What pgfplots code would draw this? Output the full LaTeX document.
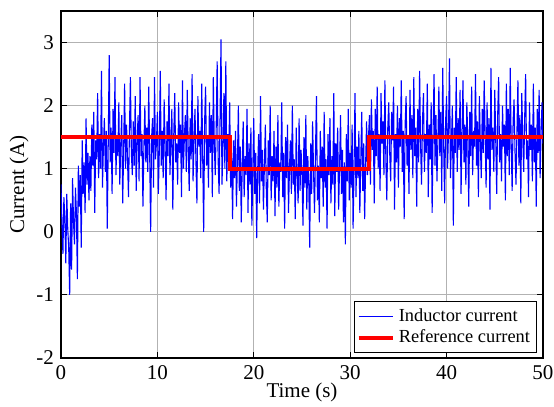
\documentclass[border=0pt]{standalone}
\usepackage{fontspec}
\setmainfont{Liberation Serif}
\usepackage{pgfplots}
\usepackage{pgfplotstable}
\pgfplotsset{compat=1.18}
\pgfplotstableread[row sep=\\,header=false]{
0.75\\ 0.10\\ -0.35\\ 0.55\\ 0.20\\ -0.50\\ 0.60\\ 0.05\\ -0.25\\ -1.00\\
0.45\\ -0.60\\ 0.85\\ 0.15\\ -0.20\\ 0.70\\ 0.30\\ -0.75\\ 1.05\\ 0.40\\
0.90\\ -0.25\\ 1.45\\ 0.60\\ 1.10\\ 0.30\\ 1.80\\ 0.75\\ 1.25\\ 0.50\\
1.20\\ 0.65\\ 1.70\\ 1.05\\ 1.90\\ 0.30\\ 1.45\\ 1.15\\ 2.20\\ 0.85\\
1.55\\ 1.00\\ 2.55\\ 0.70\\ 1.35\\ 1.80\\ 0.95\\ 1.60\\ 0.05\\ 1.40\\
2.80\\ 1.10\\ 1.65\\ 0.60\\ 1.95\\ 1.25\\ 2.45\\ 0.90\\ 1.50\\ 1.20\\
2.05\\ 0.75\\ 1.40\\ 1.85\\ 0.45\\ 1.30\\ 2.35\\ 1.00\\ 1.70\\ 1.15\\
0.55\\ 1.60\\ 2.45\\ 1.25\\ 0.90\\ 1.75\\ 1.05\\ 2.15\\ 0.65\\ 1.45\\
1.85\\ 0.80\\ 2.45\\ 1.20\\ 1.55\\ 0.40\\ 1.35\\ 2.00\\ 1.10\\ 1.65\\
0.95\\ 2.30\\ 1.25\\ 0.00\\ 1.50\\ 1.80\\ 0.70\\ 2.45\\ 1.15\\ 1.40\\
1.90\\ 0.60\\ 1.30\\ 2.55\\ 1.05\\ 1.60\\ 0.85\\ 2.10\\ 1.35\\ 0.50\\
1.75\\ 1.20\\ 2.35\\ 0.90\\ 1.45\\ 1.95\\ 0.35\\ 1.55\\ 2.20\\ 1.10\\
1.40\\ 0.75\\ 2.05\\ 1.25\\ 1.70\\ 0.55\\ 2.40\\ 1.00\\ 1.50\\ 1.85\\
0.95\\ 2.25\\ 1.30\\ 0.65\\ 1.80\\ 1.15\\ 2.50\\ 0.80\\ 1.45\\ 1.95\\
1.10\\ 0.45\\ 2.15\\ 1.35\\ 1.60\\ 0.85\\ 2.35\\ 1.20\\ 0.00\\ 1.75\\
2.30\\ 1.05\\ 1.50\\ 0.70\\ 2.05\\ 1.25\\ 1.85\\ 0.55\\ 2.45\\ 1.40\\
0.90\\ 1.65\\ 2.70\\ 1.15\\ 0.60\\ 1.80\\ 3.05\\ 0.75\\ 1.35\\ 2.20\\
1.00\\ 2.70\\ 0.80\\ 1.55\\ 1.20\\ 2.05\\ 0.70\\ 1.25\\ 0.20\\ 1.45\\
0.85\\ 1.60\\ 0.40\\ 1.10\\ 2.00\\ 0.65\\ 1.35\\ 0.15\\ 1.05\\ 1.75\\
0.55\\ 1.20\\ 0.90\\ 1.95\\ 0.30\\ 1.40\\ 0.75\\ 1.65\\ 0.10\\ 1.00\\
1.80\\ 0.60\\ 1.25\\ -0.10\\ 0.95\\ 1.55\\ 0.45\\ 2.15\\ 0.80\\ 1.30\\
0.35\\ 1.05\\ 1.70\\ 0.65\\ 0.15\\ 1.45\\ 0.90\\ 2.00\\ 0.50\\ 1.20\\
0.80\\ 1.60\\ 0.25\\ 1.35\\ 0.70\\ 1.85\\ 0.40\\ 1.10\\ 0.95\\ 2.05\\
0.55\\ 1.25\\ 0.05\\ 1.50\\ 0.85\\ 1.70\\ 0.30\\ 1.00\\ 1.45\\ 0.60\\
2.00\\ 0.75\\ 1.15\\ 0.20\\ 1.65\\ 0.90\\ 0.45\\ 1.80\\ 0.65\\ 1.30\\
0.95\\ 0.10\\ 1.50\\ 0.70\\ 1.85\\ 0.35\\ 1.20\\ 0.80\\ -0.25\\ 1.40\\
0.60\\ 1.75\\ 0.95\\ 0.30\\ 1.25\\ 2.15\\ 0.50\\ 1.05\\ 0.15\\ 1.60\\
0.85\\ 1.35\\ 0.40\\ 1.90\\ 0.70\\ 1.15\\ 0.05\\ 1.55\\ 0.90\\ 1.80\\
0.45\\ 1.20\\ 0.75\\ 2.20\\ 0.25\\ 1.40\\ 0.95\\ 1.65\\ 0.35\\ 1.05\\
1.85\\ 0.60\\ 1.30\\ 0.15\\ 1.10\\ -0.20\\ 1.55\\ 0.80\\ 1.95\\ 0.50\\
1.25\\ 0.70\\ 1.70\\ 0.05\\ 1.00\\ 2.20\\ 0.55\\ 1.35\\ 0.85\\ 1.60\\
0.30\\ 1.15\\ 1.90\\ 0.65\\ 1.40\\ 0.20\\ 1.05\\ 1.75\\ 0.90\\ 1.50\\
1.85\\ 0.75\\ 2.10\\ 1.30\\ 1.60\\ 0.45\\ 1.95\\ 1.20\\ 2.30\\ 1.00\\
1.55\\ 0.65\\ 2.20\\ 1.40\\ 1.75\\ 0.90\\ 2.40\\ 1.15\\ 0.50\\ 1.65\\
2.05\\ 1.25\\ 0.80\\ 1.90\\ 1.45\\ 2.30\\ 0.35\\ 1.55\\ 1.10\\ 2.00\\
0.70\\ 1.80\\ 1.35\\ 2.40\\ 0.95\\ 1.60\\ 0.20\\ 1.70\\ 2.15\\ 1.05\\
1.50\\ 0.60\\ 2.25\\ 1.30\\ 1.85\\ 0.85\\ 2.45\\ 1.20\\ 1.65\\ 0.40\\
1.95\\ 1.10\\ 2.55\\ 1.40\\ 0.75\\ 1.75\\ 2.20\\ 0.95\\ 1.55\\ 1.25\\
2.35\\ 0.55\\ 1.70\\ 1.15\\ 2.05\\ 0.30\\ 1.60\\ 2.50\\ 1.05\\ 1.85\\
0.80\\ 1.45\\ 2.30\\ 1.20\\ 1.90\\ 0.65\\ 2.60\\ 1.35\\ 0.45\\ 1.75\\
2.15\\ 1.00\\ 1.60\\ 2.75\\ 0.85\\ 1.40\\ 2.00\\ 0.10\\ 1.65\\ 1.25\\
2.45\\ 0.95\\ 1.80\\ 1.30\\ 2.25\\ 0.60\\ 1.55\\ 2.40\\ 1.10\\ 1.70\\
0.75\\ 2.05\\ 1.45\\ 0.40\\ 1.90\\ 1.20\\ 2.30\\ 0.90\\ 1.60\\ 1.35\\
2.50\\ 1.05\\ 1.75\\ 0.55\\ 2.15\\ 1.40\\ 0.85\\ 1.95\\ 1.25\\ 2.40\\
1.50\\ 0.70\\ 2.05\\ 1.15\\ 1.80\\ 0.35\\ 2.60\\ 1.30\\ 1.65\\ 0.95\\
2.25\\ 1.45\\ 0.60\\ 1.85\\ 2.45\\ 1.10\\ 1.55\\ 0.80\\ 2.00\\ 1.35\\
1.70\\ 0.50\\ 2.35\\ 1.20\\ 1.95\\ 0.90\\ 2.60\\ 1.40\\ 0.65\\ 1.75\\
2.10\\ 1.25\\ 0.75\\ 1.60\\ 2.40\\ 1.05\\ 1.85\\ 0.45\\ 2.20\\ 1.50\\
0.95\\ 1.80\\ 2.50\\ 1.15\\ 1.45\\ 0.55\\ 2.05\\ 1.30\\ 1.70\\ 0.80\\
2.35\\ 1.10\\ 1.65\\ 0.40\\ 1.95\\ 1.25\\ 2.25\\ 0.85\\ 1.55\\ 2.05\\
1.40\\
}\inductor
\pgfplotstableread{
t i
0 1.5
17.5 1.5
17.5 1.0
32 1.0
32 1.5
50 1.5
}\reference
\begin{document}
\begin{tikzpicture}
\useasboundingbox (-30.5pt,-24.5pt) rectangle (246.5pt,179pt);
\begin{axis}[
  at={(0pt,0pt)}, anchor=south west,
  scale only axis,
  width=241pt, height=173.5pt,
  xmin=0, xmax=50, ymin=-2, ymax=3.5,
  xtick={0,10,20,30,40,50},
  ytick={-2,-1,0,1,2,3},
  tick align=inside,
  major tick length=3pt,
  grid=major,
  grid style={line width=0.5pt, draw=gray!60},
  axis line style={line width=0.8pt},
  tick style={black, line width=0.5pt},
  /pgf/number format/assume math mode=true,
  ticklabel style={font=\fontsize{10.5}{12}\selectfont},
  label style={font=\fontsize{10.5}{12}\selectfont},
  xlabel={Time (s)},
  ylabel={Current (A)},
  xlabel style={yshift=5pt},
  ylabel style={yshift=-3pt},
  legend style={at={(0.9876,0.0144)}, anchor=south east,
    font=\fontsize{9.2}{11}\selectfont, draw=black, line width=0.6pt,
    inner sep=1.2pt, row sep=-1pt, cells={anchor=west}},
  legend cell align=left,
]
\addplot[blue, line width=0.55pt] table[x expr=\coordindex*0.1, y index=0] {\inductor};
\addlegendentry{Inductor current}
\addplot[red, line width=2pt] table[x=t, y=i] {\reference};
\addlegendentry{Reference current}
\end{axis}
\end{tikzpicture}
\end{document}
